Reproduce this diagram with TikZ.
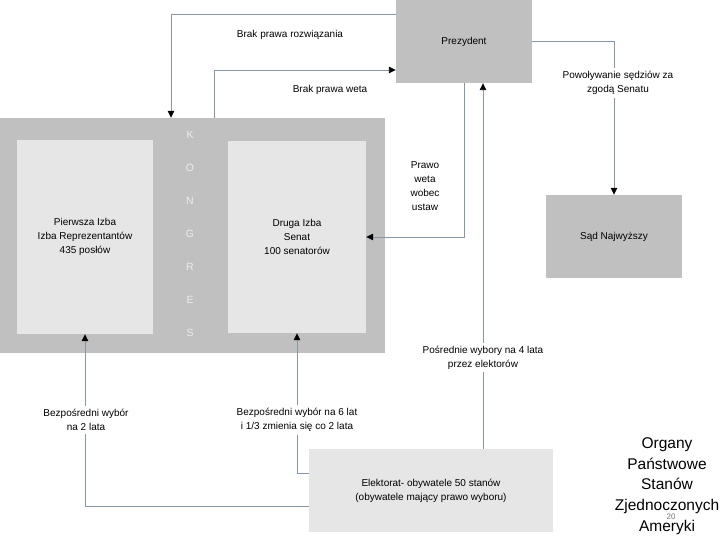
\documentclass[tikz,border=0pt]{standalone}
\usepackage{fontspec}
\setmainfont{Liberation Sans}
\usetikzlibrary{arrows.meta}
\definecolor{boxgray}{HTML}{C0C0C0}
\definecolor{boxlight}{HTML}{E6E6E6}
\definecolor{linegray}{HTML}{8797A6}
\definecolor{lettergray}{HTML}{EDEDED}
\tikzset{
  organ/.style={rectangle, fill=boxgray, inner sep=0pt, font=\fontsize{10}{14}\selectfont, align=center},
  izba/.style={rectangle, fill=boxlight, inner sep=0pt, font=\fontsize{10}{14}\selectfont, align=center},
  conn/.style={draw=linegray, line width=0.9pt},
  arr/.style={conn, -{Triangle[length=7pt, width=6.5pt, color=black]}},
  lbl/.style={font=\fontsize{10}{14}\selectfont, align=center, inner sep=1pt},
  lblw/.style={lbl, fill=white, inner ysep=3pt},
  letter/.style={font=\fontsize{10.5}{12}\selectfont, text=lettergray, inner sep=0pt},
  ttl/.style={font=\fontsize{15.5}{20.6}\selectfont, align=center, inner sep=0pt},
}
\begin{document}
\begin{tikzpicture}[x=1pt,y=-1pt]
  \useasboundingbox (0,0) rectangle (720,540);
  % boxes
  \node[organ, minimum width=136pt, minimum height=83pt] (prez) at (464,41.5) {Prezydent};
  \node[organ, minimum width=385pt, minimum height=235pt] (kongres) at (192.5,235.5) {};
  \node[izba, minimum width=136pt, minimum height=194pt] (izba1) at (85,237) {Pierwsza Izba\\Izba Reprezentantów\\435 posłów};
  \node[izba, minimum width=138pt, minimum height=192pt] (izba2) at (297,237) {Druga Izba\\Senat\\100 senatorów};
  \node[organ, minimum width=136pt, minimum height=83pt] (sad) at (614,236.5) {Sąd Najwyższy};
  \node[izba, minimum width=244pt, minimum height=83pt] (elekt) at (431,490.5) {Elektorat- obywatele 50 stanów\\(obywatele mający prawo wyboru)};
  % KONGRES
  \foreach \ch [count=\i from 0] in {K,O,N,G,R,E,S}
    \node[letter] (k\i) at (190,135+33*\i) {\ch};
  % connectors
  \draw[arr] ([yshift=27.5pt]prez.west) -| ([xshift=-21.5pt]kongres.north);
  \draw[arr] ([xshift=21.5pt]kongres.north) |- ([yshift=-28.5pt]prez.west);
  \draw[arr] (prez.south) |- (izba2.east);
  \draw[arr] (prez.east) -| (sad.north);
  \draw[arr] ([xshift=52pt]elekt.north) -- ([xshift=19pt]prez.south);
  \draw[arr] ([yshift=-15.5pt]elekt.west) -| (izba1.south);
  \draw[arr] ([yshift=17.5pt]elekt.west) -| (izba2.south);
  % labels
  \node[lbl] (lrozw) at (290,35) {Brak prawa rozwiązania};
  \node[lbl] (lweta) at (330,90) {Brak prawa weta};
  \node[lbl] (lustaw) at (425,186) {Prawo\\weta\\wobec\\ustaw};
  \node[lblw] (lsad) at (618,83) {Powoływanie sędziów za\\zgodą Senatu};
  \node[lblw] (lposr) at (483,357.5) {Pośrednie wybory na 4 lata\\przez elektorów};
  \node[lblw] (lizba1) at (86,420) {Bezpośredni wybór\\na 2 lata};
  \node[lblw] (lizba2) at (297,420) {Bezpośredni wybór na 6 lat\\i 1/3 zmienia się co 2 lata};
  % title
  \node[font=\fontsize{8}{8}\selectfont, text=black!55, inner sep=0pt] (pnum) at (671,517) {20};
  \node[ttl] (tytul) at (667,486) {Organy\\Państwowe\\Stanów\\Zjednoczonych\\Ameryki};
\end{tikzpicture}
\end{document}
